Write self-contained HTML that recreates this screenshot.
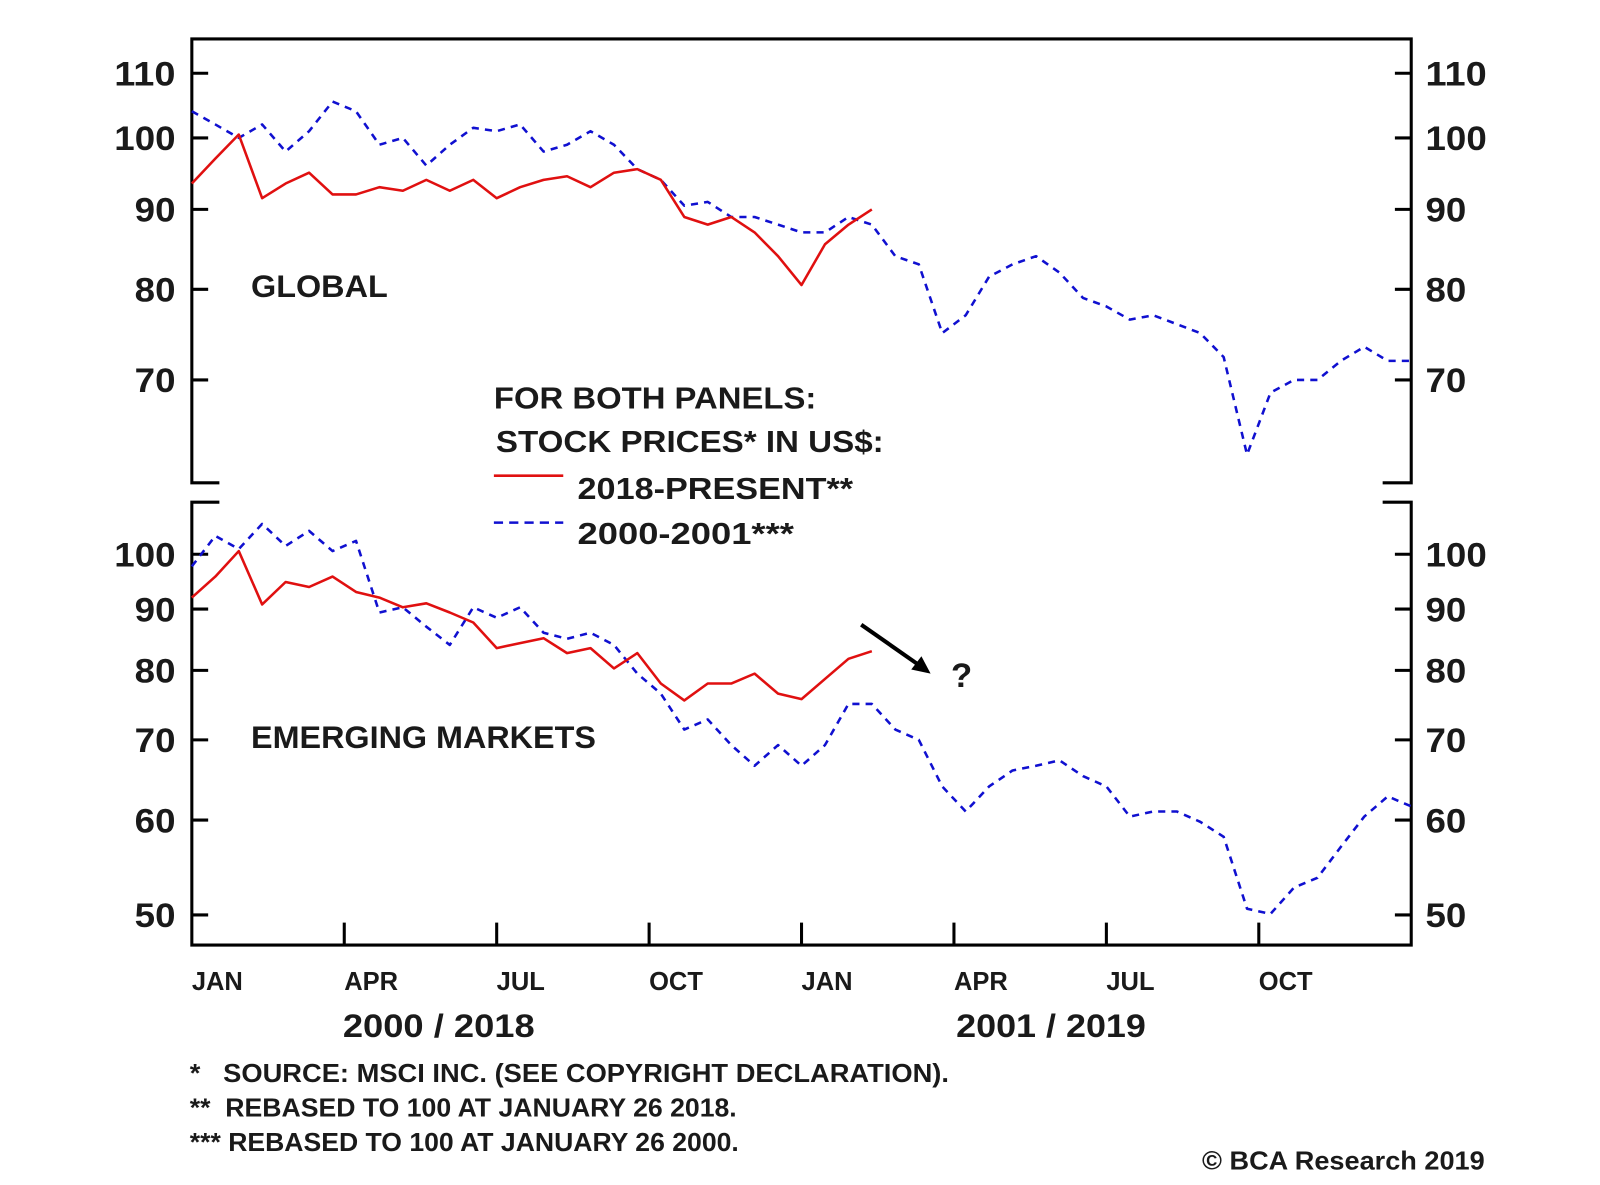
<!DOCTYPE html>
<html><head><meta charset="utf-8"><style>
html,body{margin:0;padding:0;background:#fff;}
svg{display:block;}
text{font-family:"Liberation Sans",Arial,sans-serif;font-weight:bold;fill:#1a1a1a;}
</style></head><body>
<svg id="chart" xmlns="http://www.w3.org/2000/svg" width="1600" height="1185" viewBox="0 0 1568 1161">
<g id="frame" stroke="#000" stroke-width="3" fill="none">
 <polyline points="215,473 188,473 188,38 1383,38 1383,473 1355,473"/>
 <polyline points="215,492 188,492 188,926 1383,926 1383,492 1355,492"/>
</g>
<g id="axes"></g>
<g id="series"></g>
<text x="246" y="291" font-size="31" textLength="134" lengthAdjust="spacingAndGlyphs">GLOBAL</text>
<text x="246" y="733" font-size="31" textLength="338" lengthAdjust="spacingAndGlyphs">EMERGING MARKETS</text>
<g>
 <text x="484" y="400" font-size="30" textLength="316" lengthAdjust="spacingAndGlyphs">FOR BOTH PANELS:</text>
 <text x="486" y="443" font-size="30" textLength="380" lengthAdjust="spacingAndGlyphs">STOCK PRICES* IN US$:</text>
 <line x1="484" y1="466" x2="552" y2="466" stroke="#e01010" stroke-width="2.5"/>
 <text x="566" y="489" font-size="30" textLength="270" lengthAdjust="spacingAndGlyphs">2018-PRESENT**</text>
 <line x1="484" y1="512" x2="552" y2="512" stroke="#1010d0" stroke-width="2.5" stroke-dasharray="9,6"/>
 <text x="566" y="533" font-size="30" textLength="212" lengthAdjust="spacingAndGlyphs">2000-2001***</text>
</g>
<g>
 <line x1="844" y1="612" x2="904" y2="654" stroke="#000" stroke-width="4"/>
 <polygon points="912,660 893,656 903,643" fill="#000"/>
 <text x="932" y="673" font-size="34">?</text>
</g>
<text x="336" y="1016" font-size="32" textLength="188" lengthAdjust="spacingAndGlyphs">2000 / 2018</text>
<text x="937" y="1016" font-size="32" textLength="186" lengthAdjust="spacingAndGlyphs">2001 / 2019</text>
<g>
 <text x="186" y="1060" font-size="25" textLength="744" lengthAdjust="spacingAndGlyphs">*&#160;&#160;&#160;SOURCE: MSCI INC. (SEE COPYRIGHT DECLARATION).</text>
 <text x="186" y="1094" font-size="25" textLength="536" lengthAdjust="spacingAndGlyphs">**&#160;&#160;REBASED TO 100 AT JANUARY 26 2018.</text>
 <text x="186" y="1128" font-size="25" textLength="538" lengthAdjust="spacingAndGlyphs">*** REBASED TO 100 AT JANUARY 26 2000.</text>
 <text x="1178" y="1146" font-size="25" textLength="277" lengthAdjust="spacingAndGlyphs">© BCA Research 2019</text>
</g>
</svg>
<script>
const globalTicks = [110, 100, 90, 80, 70];
const emTicks = [100, 90, 80, 70, 60, 50];
const monthLabels = ["JAN","APR","JUL","OCT","JAN","APR","JUL","OCT"];
const globalBlue = [104,102,100,102,98,101,105.5,104,99,100,96,99,101.5,101,102,98,99,101,99,95.5,94,90.5,91,89,89,88,87,87,89,88,84,83,75,77,81.5,83,84,82,79,78,76.5,77,76,75,72.4,62.7,68.7,70,70,72,73.5,72,72];
const globalRed = [93.5,97,100.5,91.5,93.5,95,92,92,93,92.5,94,92.5,94,91.5,93,94,94.5,93,95,95.5,94,89,88,89,87,84,80.5,85.5,88,90];
const emBlue = [97.7,103.6,101,106,101.6,104.6,100.6,102.6,89.4,90.3,87,84,90.3,88.5,90.3,86,85,86,84,79.5,76.5,71.4,72.8,69.3,66.6,69.3,66.6,69.3,75,75,71.4,70,64,61,64,66,66.6,67.3,65.3,64,60.4,61,61,59.8,58.1,50.6,50.1,52.7,53.7,57,60.4,62.8,61.6];
const emRed = [92,95.8,100.6,90.8,94.8,93.9,95.8,93,92,90.3,91,89.4,87.7,83.5,84.3,85.1,82.7,83.5,80.3,82.7,78,75.5,78,78,79.5,76.5,75.7,78.7,81.8,83];

const NS = "http://www.w3.org/2000/svg";
const X0 = 188, X1 = 1383, NSTEP = 52;
function xPos(i){ return X0 + i*(X1-X0)/NSTEP; }
function yGlobal(v){ return 135 - 665*Math.log(v/100); }
function yEM(v){ return 543 - 510*Math.log(v/100); }
function mk(tag, attrs, parent){
  const el = document.createElementNS(NS, tag);
  for (const k in attrs) el.setAttribute(k, attrs[k]);
  parent.appendChild(el);
  return el;
}
const axes = document.getElementById('axes');
const series = document.getElementById('series');

function drawTicks(ticks, yf, name){
  ticks.forEach(v => {
    const y = yf(v);
    const w = String(v).length === 3 ? 60 : 40;
    const l1 = mk('line', {x1:188,y1:y,x2:204,y2:y,stroke:'#000','stroke-width':3}, axes);
    
    
    const l2 = mk('line', {x1:1367,y1:y,x2:1383,y2:y,stroke:'#000','stroke-width':3}, axes);
    
    
    const t1 = mk('text', {x:172-w,y:y+12,'font-size':34,textLength:w,lengthAdjust:'spacingAndGlyphs'}, axes);
    t1.textContent = v;
    
    
    const t2 = mk('text', {x:1397,y:y+12,'font-size':34,textLength:w,lengthAdjust:'spacingAndGlyphs'}, axes);
    t2.textContent = v;
    
    
  });
}
drawTicks(globalTicks, yGlobal, 'global-y');
drawTicks(emTicks, yEM, 'em-y');

monthLabels.forEach((m, k) => {
  const x = xPos(k*6.5);
  if (k > 0) {
    const tk = mk('line', {x1:x,y1:904,x2:x,y2:926,stroke:'#000','stroke-width':3}, axes);
    
    
  }
  const t = mk('text', {x:x,y:970,'font-size':25}, axes);
  t.textContent = m;
  
  
});

function drawLine(vals, yf, color, dashed, name){
  const pts = vals.map((v,i) => xPos(i).toFixed(1)+','+yf(v).toFixed(1)).join(' ');
  const attrs = {points:pts, fill:'none', stroke:color, 'stroke-width':2.5, 'stroke-linejoin':'round'};
  if (dashed) attrs['stroke-dasharray'] = '7,6';
  const p = mk('polyline', attrs, series);
  
  
}
drawLine(globalBlue, yGlobal, '#1010d0', true, 'global-2000-2001-line');
drawLine(globalRed, yGlobal, '#e01010', false, 'global-2018-present-line');
drawLine(emBlue, yEM, '#1010d0', true, 'em-2000-2001-line');
drawLine(emRed, yEM, '#e01010', false, 'em-2018-present-line');
</script>
</body></html>
